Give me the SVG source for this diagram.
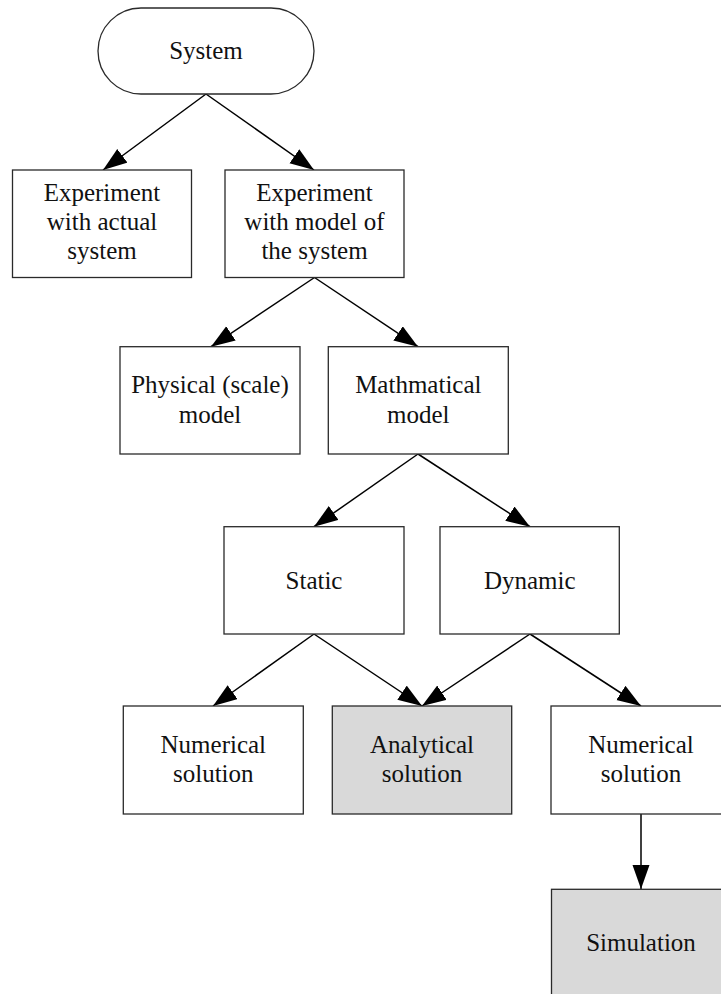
<svg xmlns="http://www.w3.org/2000/svg" width="721" height="994" viewBox="0 0 721 994">
<defs>
<style>
.box{fill:#ffffff;stroke:#2a2a2a;stroke-width:1.3}
.shade{fill:#d9d9d9}
.lbl{font-family:"Liberation Serif","Times New Roman",serif;font-size:25px;fill:#111;text-anchor:middle}
.edge{fill:none;stroke:#000;stroke-width:1.5;marker-end:url(#arr)}
</style>
<marker id="arr" markerUnits="userSpaceOnUse" markerWidth="26" markerHeight="18" refX="24" refY="8.5" orient="auto">
<path d="M0,0 L24,8.5 L0,17 Z" fill="#000"/>
</marker>
</defs>
<rect width="721" height="994" fill="#ffffff"/>
<g id="connectors">
<path class="edge" d="M206,94 L103,170"/>
<path class="edge" d="M206,94 L314,170"/>
<path class="edge" d="M314.5,277.5 L211,346.7"/>
<path class="edge" d="M314.5,277.5 L418,346.7"/>
<path class="edge" d="M418,454 L314,526.7"/>
<path class="edge" d="M418,454 L530,526.7"/>
<path class="edge" d="M314,634 L213,706"/>
<path class="edge" d="M314,634 L422,706"/>
<path class="edge" d="M530,634 L422,706"/>
<path class="edge" d="M530,634 L641,706"/>
<path class="edge" d="M641,814 L641,889"/>
</g>
<g id="system">
<rect class="box" x="98" y="8" width="216" height="86" rx="43" ry="43"/>
<text class="lbl" x="206" y="59">System</text>
</g>
<g id="exp-actual">
<rect class="box" x="12.5" y="170" width="179" height="107.5"/>
<text class="lbl" x="102" y="201">Experiment</text>
<text class="lbl" x="102" y="230">with actual</text>
<text class="lbl" x="102" y="258.5">system</text>
</g>
<g id="exp-model">
<rect class="box" x="225" y="170" width="179" height="107.5"/>
<text class="lbl" x="314.5" y="201">Experiment</text>
<text class="lbl" x="314.5" y="230">with model of</text>
<text class="lbl" x="314.5" y="258.5">the system</text>
</g>
<g id="physical">
<rect class="box" x="120" y="346.7" width="180" height="107.3"/>
<text class="lbl" x="210" y="393">Physical (scale)</text>
<text class="lbl" x="210" y="423">model</text>
</g>
<g id="mathematical">
<rect class="box" x="328.3" y="346.7" width="180" height="107.3"/>
<text class="lbl" x="418.3" y="393">Mathmatical</text>
<text class="lbl" x="418.3" y="423">model</text>
</g>
<g id="static">
<rect class="box" x="224" y="526.7" width="180" height="107.3"/>
<text class="lbl" x="314" y="588.5">Static</text>
</g>
<g id="dynamic">
<rect class="box" x="440" y="526.7" width="179.3" height="107.3"/>
<text class="lbl" x="529.7" y="588.5">Dynamic</text>
</g>
<g id="numerical-static">
<rect class="box" x="123.3" y="706" width="180" height="108"/>
<text class="lbl" x="213.3" y="753">Numerical</text>
<text class="lbl" x="213.3" y="782">solution</text>
</g>
<g id="analytical">
<rect class="box shade" x="332.3" y="706" width="179.4" height="108"/>
<text class="lbl" x="422" y="753">Analytical</text>
<text class="lbl" x="422" y="782">solution</text>
</g>
<g id="numerical-dynamic">
<rect class="box" x="551" y="706" width="180" height="108"/>
<text class="lbl" x="641" y="753">Numerical</text>
<text class="lbl" x="641" y="782">solution</text>
</g>
<g id="simulation">
<rect class="box shade" x="551.5" y="889.3" width="180" height="110"/>
<text class="lbl" x="641" y="951">Simulation</text>
</g>
</svg>
